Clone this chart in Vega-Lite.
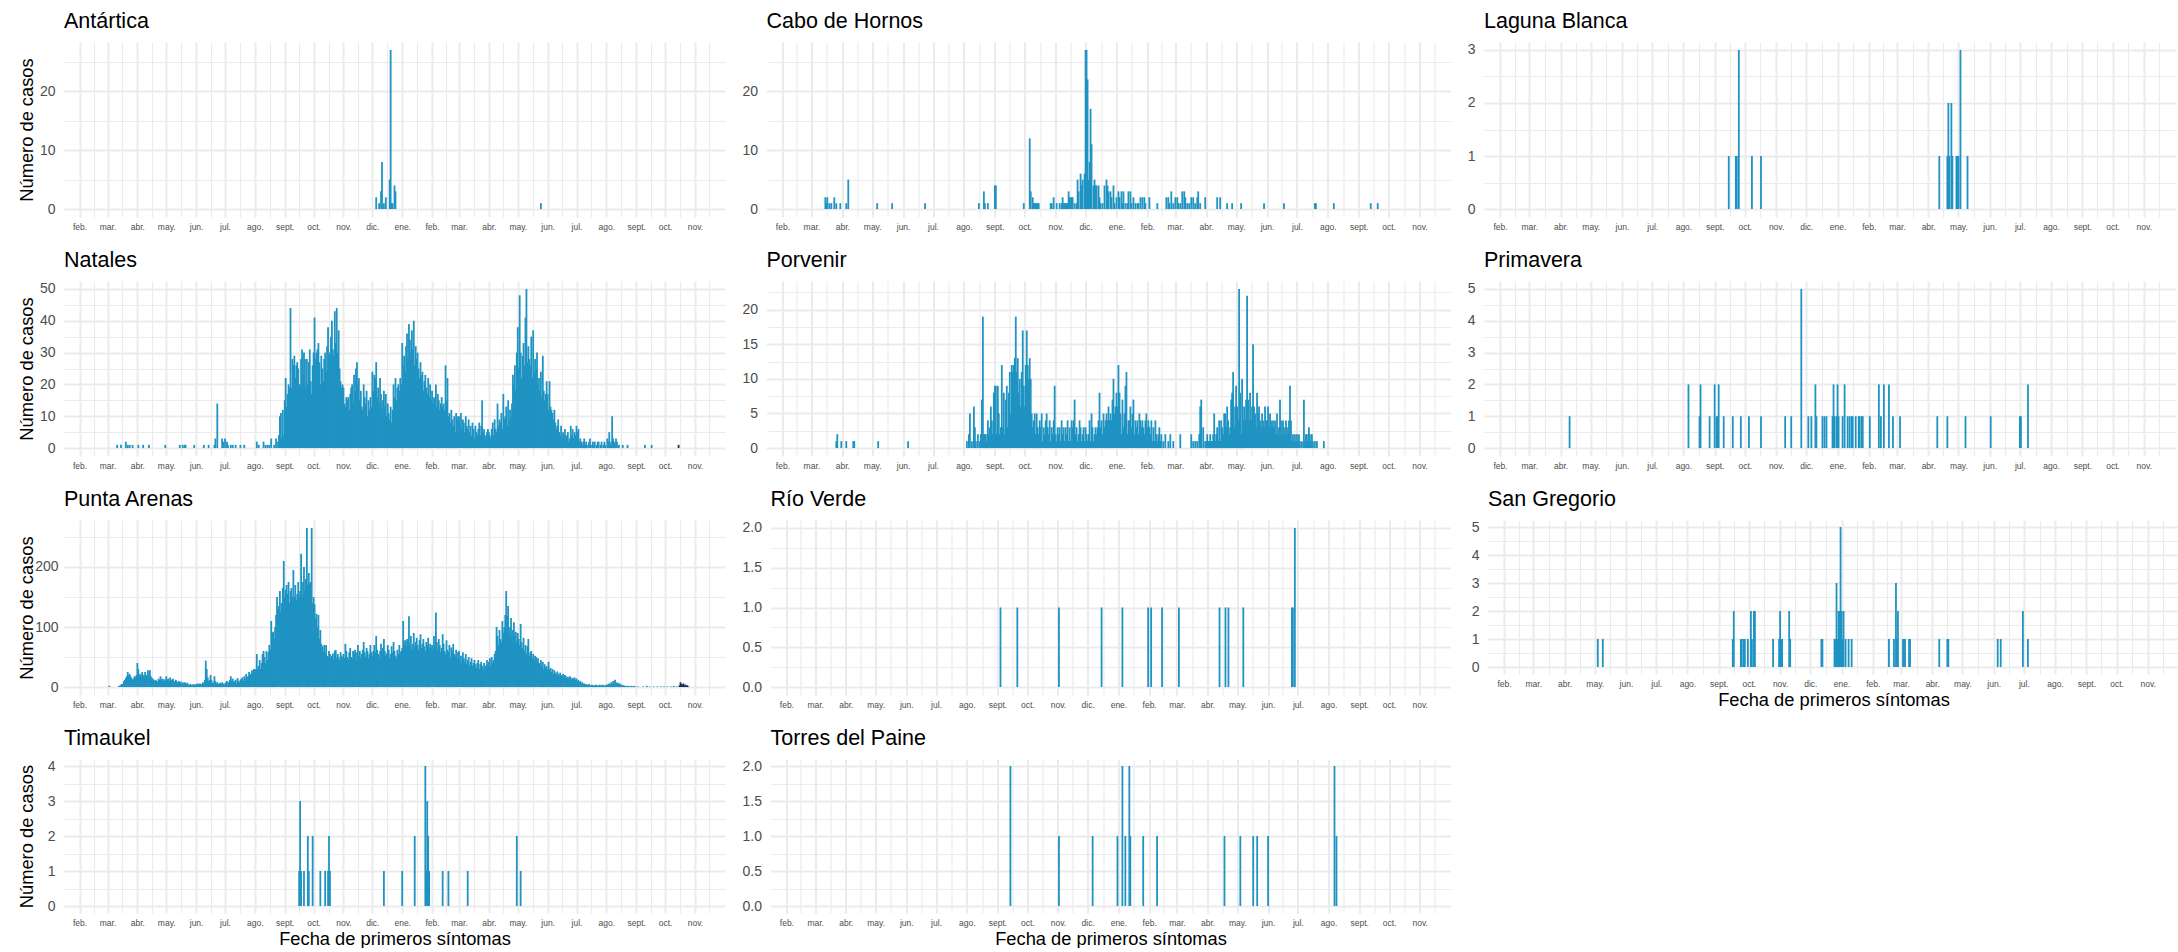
{
"$schema": "https://vega.github.io/schema/vega-lite/v6.json",
"background": "white",
"padding": {"left": 16, "top": 10, "right": 0, "bottom": 0},
"params": [
 {"name": "mes", "value": ["ene.","feb.","mar.","abr.","may.","jun.","jul.","ago.","sept.","oct.","nov.","dic."]},
 {"name": "xt", "expr": "[utc(2020,1,1),utc(2020,1,15,12),utc(2020,2,1),utc(2020,2,16,12),utc(2020,3,1),utc(2020,3,16),utc(2020,4,1),utc(2020,4,16,12),utc(2020,5,1),utc(2020,5,16),utc(2020,6,1),utc(2020,6,16,12),utc(2020,7,1),utc(2020,7,16,12),utc(2020,8,1),utc(2020,8,16),utc(2020,9,1),utc(2020,9,16,12),utc(2020,10,1),utc(2020,10,16),utc(2020,11,1),utc(2020,11,16,12),utc(2021,0,1),utc(2021,0,16,12),utc(2021,1,1),utc(2021,1,15),utc(2021,2,1),utc(2021,2,16,12),utc(2021,3,1),utc(2021,3,16),utc(2021,4,1),utc(2021,4,16,12),utc(2021,5,1),utc(2021,5,16),utc(2021,6,1),utc(2021,6,16,12),utc(2021,7,1),utc(2021,7,16,12),utc(2021,8,1),utc(2021,8,16),utc(2021,9,1),utc(2021,9,16,12),utc(2021,10,1),utc(2021,10,16)]"}
],
"config": {
 "font": "Liberation Sans",
 "view": {"stroke": null},
 "bar": {"color": "#1F93C2"},
 "axis": {"domain": false, "ticks": false, "grid": true, "gridColor": "#EBEBEB", "labelColor": "#4D4D4D", "labelFont": "Liberation Sans", "titleFont": "Liberation Sans", "titleFontWeight": "normal", "titleColor": "#000000", "titleFontSize": 18.3, "labelOverlap": false, "labelFlush": false},
 "axisX": {"labelFontSize": 8.5, "labelPadding": 5, "titlePadding": 3.5, "labelAngle": 0},
 "title": {"font": "Liberation Sans", "fontSize": 21.5, "fontWeight": "normal", "anchor": "start", "frame": "group", "baseline": "alphabetic", "offset": 10, "color": "#000000"}
},
"columns": 3,
"spacing": {"row": 18, "column": 16.5},
"align": {"row": "all", "column": "none"},
"datasets": {
"ant": [{"d":"2020-12-05","n":2},{"d":"2020-12-08","n":1},{"d":"2020-12-10","n":3},{"d":"2020-12-11","n":8},{"d":"2020-12-13","n":1},{"d":"2020-12-15","n":2},{"d":"2020-12-19","n":5},{"d":"2020-12-20","n":27},{"d":"2020-12-21","n":1},{"d":"2020-12-22","n":1},{"d":"2020-12-24","n":4},{"d":"2020-12-25","n":3},{"d":"2021-05-25","n":1}],
"cab": [{"d":"2020-03-15","n":2},{"d":"2020-03-16","n":1},{"d":"2020-03-17","n":2},{"d":"2020-03-19","n":1},{"d":"2020-03-21","n":1},{"d":"2020-03-24","n":2},{"d":"2020-03-26","n":1},{"d":"2020-03-30","n":1},{"d":"2020-04-05","n":1},{"d":"2020-04-07","n":5},{"d":"2020-05-06","n":1},{"d":"2020-05-21","n":1},{"d":"2020-06-23","n":1},{"d":"2020-08-16","n":1},{"d":"2020-08-21","n":3},{"d":"2020-08-22","n":1},{"d":"2020-08-25","n":1},{"d":"2020-09-01","n":4},{"d":"2020-09-02","n":4},{"d":"2020-09-30","n":1},{"d":"2020-10-06","n":12},{"d":"2020-10-07","n":3},{"d":"2020-10-09","n":2},{"d":"2020-10-10","n":1},{"d":"2020-10-11","n":1},{"d":"2020-10-12","n":1},{"d":"2020-10-13","n":1},{"d":"2020-10-14","n":1},{"d":"2020-10-15","n":1},{"d":"2020-10-27","n":1},{"d":"2020-10-28","n":1},{"d":"2020-10-30","n":2},{"d":"2020-11-02","n":1},{"d":"2020-11-05","n":1},{"d":"2020-11-07","n":1},{"d":"2020-11-08","n":2},{"d":"2020-11-09","n":1},{"d":"2020-11-10","n":1},{"d":"2020-11-11","n":1},{"d":"2020-11-12","n":1},{"d":"2020-11-13","n":1},{"d":"2020-11-14","n":3},{"d":"2020-11-15","n":2},{"d":"2020-11-16","n":2},{"d":"2020-11-17","n":2},{"d":"2020-11-18","n":2},{"d":"2020-11-20","n":1},{"d":"2020-11-22","n":1},{"d":"2020-11-23","n":5},{"d":"2020-11-24","n":3},{"d":"2020-11-26","n":6},{"d":"2020-11-27","n":4},{"d":"2020-11-28","n":5},{"d":"2020-11-30","n":6},{"d":"2020-12-01","n":27},{"d":"2020-12-02","n":27},{"d":"2020-12-03","n":22},{"d":"2020-12-04","n":5},{"d":"2020-12-05","n":8},{"d":"2020-12-06","n":17},{"d":"2020-12-07","n":11},{"d":"2020-12-09","n":4},{"d":"2020-12-10","n":5},{"d":"2020-12-11","n":4},{"d":"2020-12-12","n":4},{"d":"2020-12-14","n":4},{"d":"2020-12-15","n":2},{"d":"2020-12-16","n":1},{"d":"2020-12-18","n":1},{"d":"2020-12-20","n":4},{"d":"2020-12-22","n":5},{"d":"2020-12-23","n":4},{"d":"2020-12-24","n":3},{"d":"2020-12-26","n":3},{"d":"2020-12-27","n":2},{"d":"2020-12-29","n":4},{"d":"2020-12-30","n":1},{"d":"2021-01-01","n":2},{"d":"2021-01-03","n":3},{"d":"2021-01-04","n":2},{"d":"2021-01-06","n":3},{"d":"2021-01-07","n":1},{"d":"2021-01-08","n":3},{"d":"2021-01-10","n":1},{"d":"2021-01-12","n":1},{"d":"2021-01-13","n":3},{"d":"2021-01-15","n":3},{"d":"2021-01-16","n":1},{"d":"2021-01-18","n":2},{"d":"2021-01-20","n":1},{"d":"2021-01-22","n":1},{"d":"2021-01-23","n":1},{"d":"2021-01-25","n":2},{"d":"2021-01-27","n":2},{"d":"2021-01-29","n":2},{"d":"2021-01-30","n":1},{"d":"2021-02-03","n":2},{"d":"2021-02-11","n":1},{"d":"2021-02-20","n":2},{"d":"2021-02-22","n":2},{"d":"2021-02-23","n":1},{"d":"2021-02-25","n":3},{"d":"2021-02-27","n":1},{"d":"2021-03-01","n":2},{"d":"2021-03-03","n":2},{"d":"2021-03-04","n":1},{"d":"2021-03-06","n":1},{"d":"2021-03-08","n":3},{"d":"2021-03-10","n":3},{"d":"2021-03-11","n":2},{"d":"2021-03-13","n":1},{"d":"2021-03-15","n":1},{"d":"2021-03-17","n":2},{"d":"2021-03-19","n":2},{"d":"2021-03-21","n":1},{"d":"2021-03-23","n":2},{"d":"2021-03-24","n":3},{"d":"2021-03-26","n":1},{"d":"2021-03-31","n":2},{"d":"2021-04-12","n":2},{"d":"2021-04-15","n":2},{"d":"2021-04-22","n":1},{"d":"2021-04-27","n":1},{"d":"2021-05-06","n":1},{"d":"2021-05-29","n":1},{"d":"2021-06-18","n":1},{"d":"2021-07-19","n":1},{"d":"2021-07-20","n":1},{"d":"2021-08-07","n":1},{"d":"2021-09-13","n":1},{"d":"2021-09-20","n":1}],
"lag": [{"d":"2020-09-15","n":1},{"d":"2020-09-22","n":1},{"d":"2020-09-23","n":1},{"d":"2020-09-25","n":3},{"d":"2020-10-08","n":1},{"d":"2020-10-17","n":1},{"d":"2021-04-12","n":1},{"d":"2021-04-20","n":1},{"d":"2021-04-21","n":2},{"d":"2021-04-22","n":1},{"d":"2021-04-24","n":2},{"d":"2021-04-25","n":1},{"d":"2021-04-29","n":1},{"d":"2021-04-30","n":1},{"d":"2021-05-01","n":1},{"d":"2021-05-03","n":3},{"d":"2021-05-10","n":1}],
"nat": [{"d":"2020-03-11","n":1},{"d":"2020-03-15","n":1},{"d":"2020-03-20","n":2},{"d":"2020-03-22","n":1},{"d":"2020-03-24","n":1},{"d":"2020-03-27","n":1},{"d":"2020-04-02","n":1},{"d":"2020-04-07","n":1},{"d":"2020-04-13","n":1},{"d":"2020-04-30","n":1},{"d":"2020-05-15","n":1},{"d":"2020-05-18","n":1},{"d":"2020-05-20","n":1},{"d":"2020-05-21","n":1},{"d":"2020-05-30","n":1},{"d":"2020-06-09","n":1},{"d":"2020-06-14","n":1},{"d":"2020-06-20","n":1},{"d":"2020-06-21","n":3},{"d":"2020-06-23","n":14},{"d":"2020-06-28","n":3},{"d":"2020-06-29","n":2},{"d":"2020-07-01","n":3},{"d":"2020-07-03","n":2},{"d":"2020-07-04","n":1},{"d":"2020-07-07","n":1},{"d":"2020-07-09","n":1},{"d":"2020-07-12","n":1},{"d":"2020-07-17","n":1},{"d":"2020-07-21","n":1},{"d":"2020-08-03","n":2},{"d":"2020-08-05","n":1},{"d":"2020-08-10","n":2},{"d":"2020-08-12","n":1},{"d":"2020-08-14","n":1},{"d":"2020-08-16","n":1},{"d":"2020-08-18","n":3},{"d":"2020-08-21","n":1},{"d":"2020-08-23","n":3},{"d":"2020-08-24","n":2},{"d":"2020-08-26","n":4},{"d":"2020-08-27","n":10},{"d":"2020-08-28","n":11},{"d":"2020-08-29","n":3},{"d":"2020-08-30","n":12},{"d":"2020-08-31","n":4},
{"d":"2020-09-01","n":15},{"d":"2020-09-02","n":22},{"d":"2020-09-03","n":13},{"d":"2020-09-04","n":17},{"d":"2020-09-05","n":20},{"d":"2020-09-06","n":19},{"d":"2020-09-07","n":44},{"d":"2020-09-08","n":19},{"d":"2020-09-09","n":28},{"d":"2020-09-10","n":26},{"d":"2020-09-11","n":29},{"d":"2020-09-12","n":22},{"d":"2020-09-13","n":26},{"d":"2020-09-14","n":27},{"d":"2020-09-15","n":25},{"d":"2020-09-16","n":20},{"d":"2020-09-17","n":20},{"d":"2020-09-18","n":28},{"d":"2020-09-19","n":31},{"d":"2020-09-20","n":23},{"d":"2020-09-21","n":30},{"d":"2020-09-22","n":28},{"d":"2020-09-23","n":19},{"d":"2020-09-24","n":28},{"d":"2020-09-25","n":20},{"d":"2020-09-26","n":27},{"d":"2020-09-27","n":31},{"d":"2020-09-28","n":21},{"d":"2020-09-29","n":17},{"d":"2020-09-30","n":26},
{"d":"2020-10-01","n":30},{"d":"2020-10-02","n":41},{"d":"2020-10-03","n":28},{"d":"2020-10-04","n":30},{"d":"2020-10-05","n":31},{"d":"2020-10-06","n":33},{"d":"2020-10-07","n":27},{"d":"2020-10-08","n":20},{"d":"2020-10-09","n":29},{"d":"2020-10-10","n":25},{"d":"2020-10-11","n":21},{"d":"2020-10-12","n":28},{"d":"2020-10-13","n":30},{"d":"2020-10-14","n":24},{"d":"2020-10-15","n":32},{"d":"2020-10-16","n":38},{"d":"2020-10-17","n":29},{"d":"2020-10-18","n":30},{"d":"2020-10-19","n":35},{"d":"2020-10-20","n":40},{"d":"2020-10-21","n":31},{"d":"2020-10-22","n":29},{"d":"2020-10-23","n":43},{"d":"2020-10-24","n":33},{"d":"2020-10-25","n":44},{"d":"2020-10-26","n":30},{"d":"2020-10-27","n":37},{"d":"2020-10-28","n":25},{"d":"2020-10-29","n":21},{"d":"2020-10-30","n":19},{"d":"2020-10-31","n":20},
{"d":"2020-11-01","n":19},{"d":"2020-11-02","n":14},{"d":"2020-11-03","n":13},{"d":"2020-11-04","n":16},{"d":"2020-11-05","n":15},{"d":"2020-11-06","n":16},{"d":"2020-11-07","n":12},{"d":"2020-11-08","n":17},{"d":"2020-11-09","n":19},{"d":"2020-11-10","n":20},{"d":"2020-11-11","n":14},{"d":"2020-11-12","n":23},{"d":"2020-11-13","n":18},{"d":"2020-11-14","n":25},{"d":"2020-11-15","n":27},{"d":"2020-11-16","n":20},{"d":"2020-11-17","n":22},{"d":"2020-11-18","n":15},{"d":"2020-11-19","n":18},{"d":"2020-11-20","n":13},{"d":"2020-11-21","n":12},{"d":"2020-11-22","n":20},{"d":"2020-11-23","n":16},{"d":"2020-11-24","n":14},{"d":"2020-11-25","n":18},{"d":"2020-11-26","n":10},{"d":"2020-11-27","n":15},{"d":"2020-11-28","n":12},{"d":"2020-11-29","n":16},{"d":"2020-11-30","n":13},
{"d":"2020-12-01","n":24},{"d":"2020-12-02","n":18},{"d":"2020-12-03","n":23},{"d":"2020-12-04","n":22},{"d":"2020-12-05","n":27},{"d":"2020-12-06","n":16},{"d":"2020-12-07","n":19},{"d":"2020-12-08","n":14},{"d":"2020-12-09","n":22},{"d":"2020-12-10","n":17},{"d":"2020-12-11","n":12},{"d":"2020-12-12","n":15},{"d":"2020-12-13","n":18},{"d":"2020-12-14","n":13},{"d":"2020-12-15","n":17},{"d":"2020-12-16","n":10},{"d":"2020-12-17","n":14},{"d":"2020-12-18","n":11},{"d":"2020-12-19","n":9},{"d":"2020-12-20","n":13},{"d":"2020-12-21","n":8},{"d":"2020-12-22","n":12},{"d":"2020-12-23","n":20},{"d":"2020-12-24","n":16},{"d":"2020-12-25","n":22},{"d":"2020-12-26","n":15},{"d":"2020-12-27","n":19},{"d":"2020-12-28","n":20},{"d":"2020-12-29","n":18},{"d":"2020-12-30","n":22},{"d":"2020-12-31","n":20},
{"d":"2021-01-01","n":33},{"d":"2021-01-02","n":26},{"d":"2021-01-03","n":29},{"d":"2021-01-04","n":24},{"d":"2021-01-05","n":32},{"d":"2021-01-06","n":36},{"d":"2021-01-07","n":28},{"d":"2021-01-08","n":39},{"d":"2021-01-09","n":34},{"d":"2021-01-10","n":30},{"d":"2021-01-11","n":37},{"d":"2021-01-12","n":31},{"d":"2021-01-13","n":40},{"d":"2021-01-14","n":26},{"d":"2021-01-15","n":32},{"d":"2021-01-16","n":28},{"d":"2021-01-17","n":30},{"d":"2021-01-18","n":25},{"d":"2021-01-19","n":22},{"d":"2021-01-20","n":27},{"d":"2021-01-21","n":23},{"d":"2021-01-22","n":24},{"d":"2021-01-23","n":18},{"d":"2021-01-24","n":21},{"d":"2021-01-25","n":23},{"d":"2021-01-26","n":19},{"d":"2021-01-27","n":17},{"d":"2021-01-28","n":22},{"d":"2021-01-29","n":16},{"d":"2021-01-30","n":20},{"d":"2021-01-31","n":15},
{"d":"2021-02-01","n":18},{"d":"2021-02-02","n":14},{"d":"2021-02-03","n":16},{"d":"2021-02-04","n":15},{"d":"2021-02-05","n":20},{"d":"2021-02-06","n":13},{"d":"2021-02-07","n":17},{"d":"2021-02-08","n":15},{"d":"2021-02-09","n":12},{"d":"2021-02-10","n":14},{"d":"2021-02-11","n":16},{"d":"2021-02-12","n":13},{"d":"2021-02-13","n":14},{"d":"2021-02-14","n":12},{"d":"2021-02-15","n":26},{"d":"2021-02-16","n":15},{"d":"2021-02-17","n":22},{"d":"2021-02-18","n":10},{"d":"2021-02-19","n":11},{"d":"2021-02-20","n":8},{"d":"2021-02-21","n":12},{"d":"2021-02-22","n":9},{"d":"2021-02-23","n":7},{"d":"2021-02-24","n":10},{"d":"2021-02-25","n":5},{"d":"2021-02-26","n":11},{"d":"2021-02-27","n":9},{"d":"2021-02-28","n":10},
{"d":"2021-03-01","n":10},{"d":"2021-03-02","n":8},{"d":"2021-03-03","n":11},{"d":"2021-03-04","n":6},{"d":"2021-03-05","n":9},{"d":"2021-03-06","n":8},{"d":"2021-03-07","n":5},{"d":"2021-03-08","n":10},{"d":"2021-03-09","n":7},{"d":"2021-03-10","n":6},{"d":"2021-03-11","n":9},{"d":"2021-03-12","n":5},{"d":"2021-03-13","n":7},{"d":"2021-03-14","n":4},{"d":"2021-03-15","n":8},{"d":"2021-03-16","n":6},{"d":"2021-03-17","n":3},{"d":"2021-03-18","n":7},{"d":"2021-03-19","n":5},{"d":"2021-03-20","n":4},{"d":"2021-03-21","n":6},{"d":"2021-03-22","n":8},{"d":"2021-03-23","n":4},{"d":"2021-03-24","n":7},{"d":"2021-03-25","n":15},{"d":"2021-03-26","n":5},{"d":"2021-03-27","n":6},{"d":"2021-03-28","n":4},{"d":"2021-03-29","n":3},{"d":"2021-03-30","n":5},{"d":"2021-03-31","n":6},
{"d":"2021-04-01","n":5},{"d":"2021-04-02","n":4},{"d":"2021-04-03","n":3},{"d":"2021-04-04","n":6},{"d":"2021-04-05","n":8},{"d":"2021-04-06","n":4},{"d":"2021-04-07","n":9},{"d":"2021-04-08","n":6},{"d":"2021-04-09","n":5},{"d":"2021-04-10","n":14},{"d":"2021-04-11","n":7},{"d":"2021-04-12","n":9},{"d":"2021-04-13","n":8},{"d":"2021-04-14","n":11},{"d":"2021-04-15","n":6},{"d":"2021-04-16","n":17},{"d":"2021-04-17","n":9},{"d":"2021-04-18","n":10},{"d":"2021-04-19","n":13},{"d":"2021-04-20","n":7},{"d":"2021-04-21","n":15},{"d":"2021-04-22","n":9},{"d":"2021-04-23","n":12},{"d":"2021-04-24","n":10},{"d":"2021-04-25","n":14},{"d":"2021-04-26","n":23},{"d":"2021-04-27","n":20},{"d":"2021-04-28","n":26},{"d":"2021-04-29","n":18},{"d":"2021-04-30","n":30},
{"d":"2021-05-01","n":38},{"d":"2021-05-02","n":25},{"d":"2021-05-03","n":48},{"d":"2021-05-04","n":30},{"d":"2021-05-05","n":22},{"d":"2021-05-06","n":29},{"d":"2021-05-07","n":33},{"d":"2021-05-08","n":26},{"d":"2021-05-09","n":41},{"d":"2021-05-10","n":50},{"d":"2021-05-11","n":27},{"d":"2021-05-12","n":32},{"d":"2021-05-13","n":28},{"d":"2021-05-14","n":26},{"d":"2021-05-15","n":35},{"d":"2021-05-16","n":22},{"d":"2021-05-17","n":37},{"d":"2021-05-18","n":24},{"d":"2021-05-19","n":28},{"d":"2021-05-20","n":25},{"d":"2021-05-21","n":30},{"d":"2021-05-22","n":20},{"d":"2021-05-23","n":22},{"d":"2021-05-24","n":18},{"d":"2021-05-25","n":24},{"d":"2021-05-26","n":16},{"d":"2021-05-27","n":29},{"d":"2021-05-28","n":18},{"d":"2021-05-29","n":15},{"d":"2021-05-30","n":17},{"d":"2021-05-31","n":21},
{"d":"2021-06-01","n":17},{"d":"2021-06-02","n":12},{"d":"2021-06-03","n":21},{"d":"2021-06-04","n":13},{"d":"2021-06-05","n":12},{"d":"2021-06-06","n":11},{"d":"2021-06-07","n":9},{"d":"2021-06-08","n":12},{"d":"2021-06-09","n":8},{"d":"2021-06-10","n":6},{"d":"2021-06-11","n":7},{"d":"2021-06-12","n":9},{"d":"2021-06-13","n":5},{"d":"2021-06-14","n":4},{"d":"2021-06-15","n":7},{"d":"2021-06-16","n":3},{"d":"2021-06-17","n":5},{"d":"2021-06-18","n":4},{"d":"2021-06-19","n":6},{"d":"2021-06-20","n":3},{"d":"2021-06-21","n":4},{"d":"2021-06-22","n":5},{"d":"2021-06-23","n":2},{"d":"2021-06-24","n":3},{"d":"2021-06-25","n":7},{"d":"2021-06-26","n":4},{"d":"2021-06-27","n":6},{"d":"2021-06-28","n":3},{"d":"2021-06-29","n":5},{"d":"2021-06-30","n":4},
{"d":"2021-07-01","n":7},{"d":"2021-07-02","n":5},{"d":"2021-07-03","n":6},{"d":"2021-07-04","n":2},{"d":"2021-07-05","n":3},{"d":"2021-07-06","n":2},{"d":"2021-07-07","n":1},{"d":"2021-07-08","n":2},{"d":"2021-07-09","n":3},{"d":"2021-07-10","n":1},{"d":"2021-07-11","n":2},{"d":"2021-07-13","n":1},{"d":"2021-07-14","n":2},{"d":"2021-07-15","n":3},{"d":"2021-07-16","n":1},{"d":"2021-07-18","n":2},{"d":"2021-07-19","n":1},{"d":"2021-07-20","n":2},{"d":"2021-07-22","n":1},{"d":"2021-07-23","n":2},{"d":"2021-07-24","n":2},{"d":"2021-07-26","n":1},{"d":"2021-07-27","n":2},{"d":"2021-07-29","n":1},{"d":"2021-07-30","n":2},{"d":"2021-07-31","n":1},
{"d":"2021-08-02","n":3},{"d":"2021-08-03","n":2},{"d":"2021-08-04","n":5},{"d":"2021-08-05","n":1},{"d":"2021-08-06","n":2},{"d":"2021-08-07","n":10},{"d":"2021-08-08","n":3},{"d":"2021-08-09","n":2},{"d":"2021-08-10","n":1},{"d":"2021-08-11","n":3},{"d":"2021-08-12","n":2},{"d":"2021-08-14","n":1},{"d":"2021-08-18","n":1},{"d":"2021-08-23","n":1},{"d":"2021-09-10","n":1},{"d":"2021-09-17","n":1},{"d":"2021-10-15","n":1,"r":1}],
"por": [{"d":"2020-03-26","n":1},{"d":"2020-03-27","n":2},{"d":"2020-03-31","n":1},{"d":"2020-04-05","n":1},{"d":"2020-04-12","n":1},{"d":"2020-04-13","n":1},{"d":"2020-05-07","n":1},{"d":"2020-06-06","n":1},
{"d":"2020-08-04","n":1},{"d":"2020-08-06","n":2},{"d":"2020-08-07","n":5},{"d":"2020-08-09","n":1},{"d":"2020-08-11","n":6},{"d":"2020-08-12","n":3},{"d":"2020-08-13","n":1},{"d":"2020-08-15","n":2},{"d":"2020-08-17","n":1},{"d":"2020-08-18","n":2},{"d":"2020-08-19","n":7},{"d":"2020-08-20","n":19},{"d":"2020-08-21","n":2},{"d":"2020-08-22","n":2},{"d":"2020-08-23","n":2},{"d":"2020-08-24","n":1},{"d":"2020-08-25","n":4},{"d":"2020-08-26","n":2},{"d":"2020-08-27","n":3},{"d":"2020-08-28","n":6},{"d":"2020-08-29","n":4},{"d":"2020-08-30","n":2},{"d":"2020-08-31","n":8},
{"d":"2020-09-01","n":9},{"d":"2020-09-02","n":9},{"d":"2020-09-03","n":2},{"d":"2020-09-04","n":9},{"d":"2020-09-05","n":5},{"d":"2020-09-06","n":2},{"d":"2020-09-07","n":3},{"d":"2020-09-08","n":12},{"d":"2020-09-09","n":3},{"d":"2020-09-10","n":8},{"d":"2020-09-11","n":2},{"d":"2020-09-12","n":7},{"d":"2020-09-13","n":9},{"d":"2020-09-14","n":3},{"d":"2020-09-15","n":8},{"d":"2020-09-16","n":11},{"d":"2020-09-17","n":5},{"d":"2020-09-18","n":12},{"d":"2020-09-19","n":11},{"d":"2020-09-20","n":12},{"d":"2020-09-21","n":13},{"d":"2020-09-22","n":19},{"d":"2020-09-23","n":11},{"d":"2020-09-24","n":13},{"d":"2020-09-25","n":8},{"d":"2020-09-26","n":10},{"d":"2020-09-27","n":6},{"d":"2020-09-28","n":11},{"d":"2020-09-29","n":17},{"d":"2020-09-30","n":9},
{"d":"2020-10-01","n":6},{"d":"2020-10-02","n":12},{"d":"2020-10-03","n":17},{"d":"2020-10-04","n":12},{"d":"2020-10-05","n":10},{"d":"2020-10-06","n":13},{"d":"2020-10-07","n":10},{"d":"2020-10-08","n":5},{"d":"2020-10-09","n":3},{"d":"2020-10-10","n":4},{"d":"2020-10-11","n":5},{"d":"2020-10-12","n":2},{"d":"2020-10-13","n":5},{"d":"2020-10-14","n":3},{"d":"2020-10-15","n":2},{"d":"2020-10-16","n":4},{"d":"2020-10-17","n":3},{"d":"2020-10-18","n":5},{"d":"2020-10-19","n":1},{"d":"2020-10-20","n":3},{"d":"2020-10-21","n":2},{"d":"2020-10-22","n":4},{"d":"2020-10-23","n":5},{"d":"2020-10-24","n":3},{"d":"2020-10-25","n":2},{"d":"2020-10-26","n":4},{"d":"2020-10-27","n":1},{"d":"2020-10-28","n":3},{"d":"2020-10-29","n":2},{"d":"2020-10-30","n":4},{"d":"2020-10-31","n":9},
{"d":"2020-11-01","n":2},{"d":"2020-11-02","n":1},{"d":"2020-11-03","n":3},{"d":"2020-11-04","n":2},{"d":"2020-11-05","n":3},{"d":"2020-11-06","n":1},{"d":"2020-11-07","n":4},{"d":"2020-11-08","n":2},{"d":"2020-11-09","n":3},{"d":"2020-11-10","n":1},{"d":"2020-11-11","n":3},{"d":"2020-11-12","n":2},{"d":"2020-11-13","n":4},{"d":"2020-11-14","n":1},{"d":"2020-11-15","n":3},{"d":"2020-11-16","n":1},{"d":"2020-11-17","n":4},{"d":"2020-11-18","n":3},{"d":"2020-11-19","n":4},{"d":"2020-11-20","n":7},{"d":"2020-11-21","n":2},{"d":"2020-11-22","n":3},{"d":"2020-11-23","n":1},{"d":"2020-11-24","n":2},{"d":"2020-11-25","n":4},{"d":"2020-11-26","n":3},{"d":"2020-11-27","n":1},{"d":"2020-11-28","n":2},{"d":"2020-11-29","n":3},{"d":"2020-11-30","n":1},
{"d":"2020-12-01","n":3},{"d":"2020-12-02","n":2},{"d":"2020-12-03","n":1},{"d":"2020-12-04","n":2},{"d":"2020-12-05","n":4},{"d":"2020-12-06","n":1},{"d":"2020-12-07","n":5},{"d":"2020-12-08","n":3},{"d":"2020-12-09","n":1},{"d":"2020-12-10","n":2},{"d":"2020-12-11","n":3},{"d":"2020-12-12","n":2},{"d":"2020-12-13","n":3},{"d":"2020-12-14","n":4},{"d":"2020-12-15","n":8},{"d":"2020-12-16","n":3},{"d":"2020-12-17","n":4},{"d":"2020-12-18","n":2},{"d":"2020-12-19","n":5},{"d":"2020-12-20","n":3},{"d":"2020-12-21","n":4},{"d":"2020-12-22","n":5},{"d":"2020-12-23","n":4},{"d":"2020-12-24","n":6},{"d":"2020-12-25","n":4},{"d":"2020-12-26","n":5},{"d":"2020-12-27","n":4},{"d":"2020-12-28","n":7},{"d":"2020-12-29","n":10},{"d":"2020-12-30","n":5},{"d":"2020-12-31","n":6},
{"d":"2021-01-01","n":8},{"d":"2021-01-02","n":6},{"d":"2021-01-03","n":12},{"d":"2021-01-04","n":8},{"d":"2021-01-05","n":5},{"d":"2021-01-06","n":2},{"d":"2021-01-07","n":7},{"d":"2021-01-08","n":3},{"d":"2021-01-09","n":5},{"d":"2021-01-10","n":9},{"d":"2021-01-11","n":11},{"d":"2021-01-12","n":2},{"d":"2021-01-13","n":4},{"d":"2021-01-14","n":4},{"d":"2021-01-15","n":6},{"d":"2021-01-16","n":3},{"d":"2021-01-17","n":5},{"d":"2021-01-18","n":7},{"d":"2021-01-19","n":2},{"d":"2021-01-20","n":4},{"d":"2021-01-21","n":3},{"d":"2021-01-22","n":4},{"d":"2021-01-23","n":2},{"d":"2021-01-24","n":5},{"d":"2021-01-25","n":4},{"d":"2021-01-26","n":3},{"d":"2021-01-27","n":4},{"d":"2021-01-28","n":3},{"d":"2021-01-29","n":2},{"d":"2021-01-30","n":4},{"d":"2021-01-31","n":5},
{"d":"2021-02-01","n":3},{"d":"2021-02-02","n":4},{"d":"2021-02-03","n":3},{"d":"2021-02-04","n":2},{"d":"2021-02-05","n":4},{"d":"2021-02-06","n":1},{"d":"2021-02-07","n":3},{"d":"2021-02-08","n":1},{"d":"2021-02-09","n":4},{"d":"2021-02-10","n":2},{"d":"2021-02-11","n":1},{"d":"2021-02-12","n":2},{"d":"2021-02-13","n":3},{"d":"2021-02-14","n":1},{"d":"2021-02-15","n":2},{"d":"2021-02-17","n":1},{"d":"2021-02-19","n":2},{"d":"2021-02-22","n":1},{"d":"2021-02-24","n":2},{"d":"2021-02-27","n":1},
{"d":"2021-03-06","n":2},{"d":"2021-03-17","n":2},{"d":"2021-03-19","n":1},{"d":"2021-03-21","n":1},{"d":"2021-03-23","n":1},{"d":"2021-03-25","n":2},{"d":"2021-03-26","n":6},{"d":"2021-03-27","n":7},{"d":"2021-03-29","n":3},{"d":"2021-03-31","n":1},
{"d":"2021-04-01","n":1},{"d":"2021-04-02","n":2},{"d":"2021-04-03","n":1},{"d":"2021-04-04","n":1},{"d":"2021-04-05","n":2},{"d":"2021-04-06","n":1},{"d":"2021-04-07","n":1},{"d":"2021-04-08","n":2},{"d":"2021-04-09","n":5},{"d":"2021-04-10","n":1},{"d":"2021-04-11","n":2},{"d":"2021-04-12","n":3},{"d":"2021-04-13","n":1},{"d":"2021-04-14","n":4},{"d":"2021-04-15","n":1},{"d":"2021-04-16","n":4},{"d":"2021-04-17","n":3},{"d":"2021-04-18","n":2},{"d":"2021-04-19","n":5},{"d":"2021-04-20","n":5},{"d":"2021-04-21","n":3},{"d":"2021-04-22","n":6},{"d":"2021-04-23","n":4},{"d":"2021-04-24","n":2},{"d":"2021-04-25","n":3},{"d":"2021-04-26","n":7},{"d":"2021-04-27","n":8},{"d":"2021-04-28","n":11},{"d":"2021-04-29","n":3},{"d":"2021-04-30","n":6},
{"d":"2021-05-01","n":9},{"d":"2021-05-02","n":6},{"d":"2021-05-03","n":4},{"d":"2021-05-04","n":23},{"d":"2021-05-05","n":8},{"d":"2021-05-06","n":2},{"d":"2021-05-07","n":10},{"d":"2021-05-08","n":4},{"d":"2021-05-09","n":6},{"d":"2021-05-10","n":4},{"d":"2021-05-11","n":7},{"d":"2021-05-12","n":22},{"d":"2021-05-13","n":7},{"d":"2021-05-14","n":4},{"d":"2021-05-15","n":8},{"d":"2021-05-16","n":4},{"d":"2021-05-17","n":6},{"d":"2021-05-18","n":15},{"d":"2021-05-19","n":6},{"d":"2021-05-20","n":5},{"d":"2021-05-21","n":3},{"d":"2021-05-22","n":8},{"d":"2021-05-23","n":5},{"d":"2021-05-24","n":6},{"d":"2021-05-25","n":4},{"d":"2021-05-26","n":3},{"d":"2021-05-27","n":5},{"d":"2021-05-28","n":4},{"d":"2021-05-29","n":3},{"d":"2021-05-30","n":6},{"d":"2021-05-31","n":4},
{"d":"2021-06-01","n":4},{"d":"2021-06-02","n":6},{"d":"2021-06-03","n":3},{"d":"2021-06-04","n":5},{"d":"2021-06-05","n":4},{"d":"2021-06-06","n":3},{"d":"2021-06-07","n":4},{"d":"2021-06-08","n":3},{"d":"2021-06-09","n":4},{"d":"2021-06-10","n":2},{"d":"2021-06-11","n":5},{"d":"2021-06-12","n":2},{"d":"2021-06-13","n":3},{"d":"2021-06-14","n":7},{"d":"2021-06-15","n":4},{"d":"2021-06-16","n":2},{"d":"2021-06-17","n":4},{"d":"2021-06-18","n":3},{"d":"2021-06-19","n":2},{"d":"2021-06-20","n":4},{"d":"2021-06-21","n":3},{"d":"2021-06-22","n":2},{"d":"2021-06-23","n":4},{"d":"2021-06-24","n":9},{"d":"2021-06-25","n":4},{"d":"2021-06-26","n":1},{"d":"2021-06-27","n":2},{"d":"2021-06-28","n":1},{"d":"2021-06-29","n":2},{"d":"2021-06-30","n":1},
{"d":"2021-07-01","n":2},{"d":"2021-07-02","n":1},{"d":"2021-07-03","n":2},{"d":"2021-07-04","n":1},{"d":"2021-07-06","n":1},{"d":"2021-07-08","n":7},{"d":"2021-07-09","n":1},{"d":"2021-07-10","n":2},{"d":"2021-07-11","n":2},{"d":"2021-07-12","n":1},{"d":"2021-07-13","n":3},{"d":"2021-07-14","n":2},{"d":"2021-07-15","n":1},{"d":"2021-07-16","n":2},{"d":"2021-07-17","n":1},{"d":"2021-07-19","n":1},{"d":"2021-07-21","n":1},{"d":"2021-07-28","n":1}],
"pri": [{"d":"2020-04-10","n":1},{"d":"2020-08-06","n":2},{"d":"2020-08-17","n":1},{"d":"2020-08-18","n":2},{"d":"2020-08-27","n":1},{"d":"2020-09-01","n":2},{"d":"2020-09-03","n":1},{"d":"2020-09-04","n":1},{"d":"2020-09-05","n":2},{"d":"2020-09-10","n":1},{"d":"2020-09-19","n":1},{"d":"2020-09-27","n":1},{"d":"2020-10-05","n":1},{"d":"2020-10-17","n":1},{"d":"2020-11-10","n":1},{"d":"2020-11-16","n":1},{"d":"2020-11-26","n":5},{"d":"2020-12-03","n":1},{"d":"2020-12-06","n":1},{"d":"2020-12-10","n":2},{"d":"2020-12-11","n":1},{"d":"2020-12-17","n":1},{"d":"2020-12-19","n":1},{"d":"2020-12-21","n":1},{"d":"2020-12-27","n":1},{"d":"2020-12-28","n":2},{"d":"2020-12-29","n":1},{"d":"2020-12-31","n":1},{"d":"2021-01-01","n":2},{"d":"2021-01-02","n":1},{"d":"2021-01-06","n":1},{"d":"2021-01-08","n":2},{"d":"2021-01-11","n":1},{"d":"2021-01-13","n":1},{"d":"2021-01-15","n":1},{"d":"2021-01-16","n":1},{"d":"2021-01-19","n":1},{"d":"2021-01-22","n":1},{"d":"2021-01-23","n":1},{"d":"2021-01-25","n":1},{"d":"2021-01-26","n":1},{"d":"2021-02-02","n":1},{"d":"2021-02-11","n":2},{"d":"2021-02-13","n":1},{"d":"2021-02-16","n":2},{"d":"2021-02-21","n":2},{"d":"2021-02-25","n":1},{"d":"2021-03-04","n":1},{"d":"2021-04-10","n":1},{"d":"2021-04-20","n":1},{"d":"2021-05-08","n":1},{"d":"2021-06-02","n":1},{"d":"2021-07-01","n":1},{"d":"2021-07-02","n":1},{"d":"2021-07-09","n":2}],
"pun": [{"d":"2020-03-03","n":2},{"d":"2020-03-13","n":2},{"d":"2020-03-14","n":2},{"d":"2020-03-15","n":4},{"d":"2020-03-16","n":5},{"d":"2020-03-17","n":5},{"d":"2020-03-18","n":10},{"d":"2020-03-19","n":12},{"d":"2020-03-20","n":15},{"d":"2020-03-21","n":18},{"d":"2020-03-22","n":25},{"d":"2020-03-23","n":20},{"d":"2020-03-24","n":22},{"d":"2020-03-25","n":18},{"d":"2020-03-26","n":15},{"d":"2020-03-27","n":12},{"d":"2020-03-28","n":14},{"d":"2020-03-29","n":18},{"d":"2020-03-30","n":16},{"d":"2020-03-31","n":20},
{"d":"2020-04-01","n":40},{"d":"2020-04-02","n":30},{"d":"2020-04-03","n":20},{"d":"2020-04-04","n":22},{"d":"2020-04-05","n":18},{"d":"2020-04-06","n":25},{"d":"2020-04-07","n":20},{"d":"2020-04-08","n":18},{"d":"2020-04-09","n":25},{"d":"2020-04-10","n":20},{"d":"2020-04-11","n":17},{"d":"2020-04-12","n":28},{"d":"2020-04-13","n":20},{"d":"2020-04-14","n":28},{"d":"2020-04-15","n":18},{"d":"2020-04-16","n":15},{"d":"2020-04-17","n":14},{"d":"2020-04-18","n":12},{"d":"2020-04-19","n":10},{"d":"2020-04-20","n":12},{"d":"2020-04-21","n":10},{"d":"2020-04-22","n":9},{"d":"2020-04-23","n":14},{"d":"2020-04-24","n":12},{"d":"2020-04-25","n":18},{"d":"2020-04-26","n":12},{"d":"2020-04-27","n":14},{"d":"2020-04-28","n":10},{"d":"2020-04-29","n":13},{"d":"2020-04-30","n":11},
{"d":"2020-05-01","n":18},{"d":"2020-05-02","n":12},{"d":"2020-05-03","n":14},{"d":"2020-05-04","n":10},{"d":"2020-05-05","n":16},{"d":"2020-05-06","n":12},{"d":"2020-05-07","n":12},{"d":"2020-05-08","n":14},{"d":"2020-05-09","n":10},{"d":"2020-05-10","n":8},{"d":"2020-05-11","n":12},{"d":"2020-05-12","n":9},{"d":"2020-05-13","n":7},{"d":"2020-05-14","n":10},{"d":"2020-05-15","n":8},{"d":"2020-05-16","n":9},{"d":"2020-05-17","n":5},{"d":"2020-05-18","n":8},{"d":"2020-05-19","n":6},{"d":"2020-05-20","n":8},{"d":"2020-05-21","n":7},{"d":"2020-05-22","n":5},{"d":"2020-05-23","n":7},{"d":"2020-05-24","n":4},{"d":"2020-05-25","n":3},{"d":"2020-05-26","n":5},{"d":"2020-05-27","n":4},{"d":"2020-05-28","n":3},{"d":"2020-05-29","n":5},{"d":"2020-05-30","n":4},{"d":"2020-05-31","n":3},
{"d":"2020-06-01","n":5},{"d":"2020-06-02","n":4},{"d":"2020-06-03","n":6},{"d":"2020-06-04","n":3},{"d":"2020-06-05","n":6},{"d":"2020-06-06","n":5},{"d":"2020-06-07","n":4},{"d":"2020-06-08","n":8},{"d":"2020-06-09","n":6},{"d":"2020-06-10","n":12},{"d":"2020-06-11","n":44},{"d":"2020-06-12","n":30},{"d":"2020-06-13","n":16},{"d":"2020-06-14","n":10},{"d":"2020-06-15","n":12},{"d":"2020-06-16","n":20},{"d":"2020-06-17","n":12},{"d":"2020-06-18","n":6},{"d":"2020-06-19","n":8},{"d":"2020-06-20","n":18},{"d":"2020-06-21","n":10},{"d":"2020-06-22","n":6},{"d":"2020-06-23","n":8},{"d":"2020-06-24","n":5},{"d":"2020-06-25","n":6},{"d":"2020-06-26","n":7},{"d":"2020-06-27","n":5},{"d":"2020-06-28","n":8},{"d":"2020-06-29","n":6},{"d":"2020-06-30","n":4},
{"d":"2020-07-01","n":6},{"d":"2020-07-02","n":8},{"d":"2020-07-03","n":10},{"d":"2020-07-04","n":6},{"d":"2020-07-05","n":8},{"d":"2020-07-06","n":12},{"d":"2020-07-07","n":18},{"d":"2020-07-08","n":10},{"d":"2020-07-09","n":14},{"d":"2020-07-10","n":8},{"d":"2020-07-11","n":10},{"d":"2020-07-12","n":12},{"d":"2020-07-13","n":6},{"d":"2020-07-14","n":15},{"d":"2020-07-15","n":10},{"d":"2020-07-16","n":8},{"d":"2020-07-17","n":12},{"d":"2020-07-18","n":14},{"d":"2020-07-19","n":16},{"d":"2020-07-20","n":10},{"d":"2020-07-21","n":18},{"d":"2020-07-22","n":14},{"d":"2020-07-23","n":22},{"d":"2020-07-24","n":16},{"d":"2020-07-25","n":18},{"d":"2020-07-26","n":25},{"d":"2020-07-27","n":20},{"d":"2020-07-28","n":22},{"d":"2020-07-29","n":28},{"d":"2020-07-30","n":24},{"d":"2020-07-31","n":30},
{"d":"2020-08-01","n":30},{"d":"2020-08-02","n":28},{"d":"2020-08-03","n":55},{"d":"2020-08-04","n":30},{"d":"2020-08-05","n":35},{"d":"2020-08-06","n":45},{"d":"2020-08-07","n":30},{"d":"2020-08-08","n":40},{"d":"2020-08-09","n":55},{"d":"2020-08-10","n":60},{"d":"2020-08-11","n":50},{"d":"2020-08-12","n":40},{"d":"2020-08-13","n":60},{"d":"2020-08-14","n":45},{"d":"2020-08-15","n":58},{"d":"2020-08-16","n":70},{"d":"2020-08-17","n":62},{"d":"2020-08-18","n":110},{"d":"2020-08-19","n":90},{"d":"2020-08-20","n":92},{"d":"2020-08-21","n":80},{"d":"2020-08-22","n":100},{"d":"2020-08-23","n":120},{"d":"2020-08-24","n":150},{"d":"2020-08-25","n":130},{"d":"2020-08-26","n":135},{"d":"2020-08-27","n":160},{"d":"2020-08-28","n":125},{"d":"2020-08-29","n":140},{"d":"2020-08-30","n":165},{"d":"2020-08-31","n":210},
{"d":"2020-09-01","n":150},{"d":"2020-09-02","n":162},{"d":"2020-09-03","n":170},{"d":"2020-09-04","n":155},{"d":"2020-09-05","n":175},{"d":"2020-09-06","n":140},{"d":"2020-09-07","n":160},{"d":"2020-09-08","n":165},{"d":"2020-09-09","n":150},{"d":"2020-09-10","n":195},{"d":"2020-09-11","n":150},{"d":"2020-09-12","n":170},{"d":"2020-09-13","n":145},{"d":"2020-09-14","n":155},{"d":"2020-09-15","n":175},{"d":"2020-09-16","n":150},{"d":"2020-09-17","n":160},{"d":"2020-09-18","n":222},{"d":"2020-09-19","n":150},{"d":"2020-09-20","n":175},{"d":"2020-09-21","n":200},{"d":"2020-09-22","n":160},{"d":"2020-09-23","n":180},{"d":"2020-09-24","n":265},{"d":"2020-09-25","n":170},{"d":"2020-09-26","n":190},{"d":"2020-09-27","n":172},{"d":"2020-09-28","n":175},{"d":"2020-09-29","n":265},{"d":"2020-09-30","n":140},
{"d":"2020-10-01","n":150},{"d":"2020-10-02","n":138},{"d":"2020-10-03","n":115},{"d":"2020-10-04","n":122},{"d":"2020-10-05","n":100},{"d":"2020-10-06","n":120},{"d":"2020-10-07","n":80},{"d":"2020-10-08","n":95},{"d":"2020-10-09","n":72},{"d":"2020-10-10","n":68},{"d":"2020-10-11","n":60},{"d":"2020-10-12","n":70},{"d":"2020-10-13","n":56},{"d":"2020-10-14","n":70},{"d":"2020-10-15","n":52},{"d":"2020-10-16","n":50},{"d":"2020-10-17","n":60},{"d":"2020-10-18","n":55},{"d":"2020-10-19","n":48},{"d":"2020-10-20","n":52},{"d":"2020-10-21","n":56},{"d":"2020-10-22","n":45},{"d":"2020-10-23","n":60},{"d":"2020-10-24","n":62},{"d":"2020-10-25","n":48},{"d":"2020-10-26","n":55},{"d":"2020-10-27","n":50},{"d":"2020-10-28","n":45},{"d":"2020-10-29","n":58},{"d":"2020-10-30","n":52},{"d":"2020-10-31","n":48},
{"d":"2020-11-01","n":55},{"d":"2020-11-02","n":48},{"d":"2020-11-03","n":72},{"d":"2020-11-04","n":60},{"d":"2020-11-05","n":50},{"d":"2020-11-06","n":46},{"d":"2020-11-07","n":58},{"d":"2020-11-08","n":65},{"d":"2020-11-09","n":50},{"d":"2020-11-10","n":48},{"d":"2020-11-11","n":60},{"d":"2020-11-12","n":55},{"d":"2020-11-13","n":62},{"d":"2020-11-14","n":58},{"d":"2020-11-15","n":45},{"d":"2020-11-16","n":70},{"d":"2020-11-17","n":52},{"d":"2020-11-18","n":60},{"d":"2020-11-19","n":48},{"d":"2020-11-20","n":55},{"d":"2020-11-21","n":62},{"d":"2020-11-22","n":75},{"d":"2020-11-23","n":58},{"d":"2020-11-24","n":50},{"d":"2020-11-25","n":65},{"d":"2020-11-26","n":60},{"d":"2020-11-27","n":48},{"d":"2020-11-28","n":55},{"d":"2020-11-29","n":70},{"d":"2020-11-30","n":58},
{"d":"2020-12-01","n":52},{"d":"2020-12-02","n":60},{"d":"2020-12-03","n":70},{"d":"2020-12-04","n":58},{"d":"2020-12-05","n":85},{"d":"2020-12-06","n":62},{"d":"2020-12-07","n":55},{"d":"2020-12-08","n":48},{"d":"2020-12-09","n":60},{"d":"2020-12-10","n":72},{"d":"2020-12-11","n":58},{"d":"2020-12-12","n":65},{"d":"2020-12-13","n":80},{"d":"2020-12-14","n":60},{"d":"2020-12-15","n":52},{"d":"2020-12-16","n":56},{"d":"2020-12-17","n":70},{"d":"2020-12-18","n":62},{"d":"2020-12-19","n":48},{"d":"2020-12-20","n":55},{"d":"2020-12-21","n":68},{"d":"2020-12-22","n":58},{"d":"2020-12-23","n":75},{"d":"2020-12-24","n":60},{"d":"2020-12-25","n":52},{"d":"2020-12-26","n":48},{"d":"2020-12-27","n":62},{"d":"2020-12-28","n":55},{"d":"2020-12-29","n":70},{"d":"2020-12-30","n":58},{"d":"2020-12-31","n":60},
{"d":"2021-01-01","n":65},{"d":"2021-01-02","n":110},{"d":"2021-01-03","n":72},{"d":"2021-01-04","n":78},{"d":"2021-01-05","n":68},{"d":"2021-01-06","n":80},{"d":"2021-01-07","n":75},{"d":"2021-01-08","n":118},{"d":"2021-01-09","n":70},{"d":"2021-01-10","n":85},{"d":"2021-01-11","n":62},{"d":"2021-01-12","n":72},{"d":"2021-01-13","n":90},{"d":"2021-01-14","n":68},{"d":"2021-01-15","n":75},{"d":"2021-01-16","n":82},{"d":"2021-01-17","n":70},{"d":"2021-01-18","n":62},{"d":"2021-01-19","n":78},{"d":"2021-01-20","n":88},{"d":"2021-01-21","n":65},{"d":"2021-01-22","n":72},{"d":"2021-01-23","n":80},{"d":"2021-01-24","n":68},{"d":"2021-01-25","n":60},{"d":"2021-01-26","n":75},{"d":"2021-01-27","n":70},{"d":"2021-01-28","n":82},{"d":"2021-01-29","n":66},{"d":"2021-01-30","n":72},{"d":"2021-01-31","n":64},
{"d":"2021-02-01","n":70},{"d":"2021-02-02","n":62},{"d":"2021-02-03","n":85},{"d":"2021-02-04","n":68},{"d":"2021-02-05","n":124},{"d":"2021-02-06","n":75},{"d":"2021-02-07","n":62},{"d":"2021-02-08","n":80},{"d":"2021-02-09","n":70},{"d":"2021-02-10","n":58},{"d":"2021-02-11","n":65},{"d":"2021-02-12","n":88},{"d":"2021-02-13","n":72},{"d":"2021-02-14","n":60},{"d":"2021-02-15","n":55},{"d":"2021-02-16","n":78},{"d":"2021-02-17","n":62},{"d":"2021-02-18","n":58},{"d":"2021-02-19","n":70},{"d":"2021-02-20","n":50},{"d":"2021-02-21","n":66},{"d":"2021-02-22","n":60},{"d":"2021-02-23","n":72},{"d":"2021-02-24","n":55},{"d":"2021-02-25","n":52},{"d":"2021-02-26","n":62},{"d":"2021-02-27","n":48},{"d":"2021-02-28","n":58},
{"d":"2021-03-01","n":60},{"d":"2021-03-02","n":45},{"d":"2021-03-03","n":52},{"d":"2021-03-04","n":40},{"d":"2021-03-05","n":58},{"d":"2021-03-06","n":48},{"d":"2021-03-07","n":42},{"d":"2021-03-08","n":55},{"d":"2021-03-09","n":38},{"d":"2021-03-10","n":45},{"d":"2021-03-11","n":50},{"d":"2021-03-12","n":36},{"d":"2021-03-13","n":42},{"d":"2021-03-14","n":48},{"d":"2021-03-15","n":35},{"d":"2021-03-16","n":40},{"d":"2021-03-17","n":45},{"d":"2021-03-18","n":38},{"d":"2021-03-19","n":32},{"d":"2021-03-20","n":40},{"d":"2021-03-21","n":45},{"d":"2021-03-22","n":30},{"d":"2021-03-23","n":38},{"d":"2021-03-24","n":42},{"d":"2021-03-25","n":35},{"d":"2021-03-26","n":28},{"d":"2021-03-27","n":40},{"d":"2021-03-28","n":36},{"d":"2021-03-29","n":30},{"d":"2021-03-30","n":45},{"d":"2021-03-31","n":38},
{"d":"2021-04-01","n":42},{"d":"2021-04-02","n":48},{"d":"2021-04-03","n":35},{"d":"2021-04-04","n":50},{"d":"2021-04-05","n":40},{"d":"2021-04-06","n":45},{"d":"2021-04-07","n":55},{"d":"2021-04-08","n":60},{"d":"2021-04-09","n":100},{"d":"2021-04-10","n":85},{"d":"2021-04-11","n":70},{"d":"2021-04-12","n":95},{"d":"2021-04-13","n":80},{"d":"2021-04-14","n":75},{"d":"2021-04-15","n":110},{"d":"2021-04-16","n":90},{"d":"2021-04-17","n":100},{"d":"2021-04-18","n":120},{"d":"2021-04-19","n":160},{"d":"2021-04-20","n":118},{"d":"2021-04-21","n":135},{"d":"2021-04-22","n":90},{"d":"2021-04-23","n":100},{"d":"2021-04-24","n":115},{"d":"2021-04-25","n":80},{"d":"2021-04-26","n":95},{"d":"2021-04-27","n":108},{"d":"2021-04-28","n":85},{"d":"2021-04-29","n":92},{"d":"2021-04-30","n":75},
{"d":"2021-05-01","n":90},{"d":"2021-05-02","n":80},{"d":"2021-05-03","n":70},{"d":"2021-05-04","n":105},{"d":"2021-05-05","n":75},{"d":"2021-05-06","n":65},{"d":"2021-05-07","n":82},{"d":"2021-05-08","n":60},{"d":"2021-05-09","n":70},{"d":"2021-05-10","n":55},{"d":"2021-05-11","n":68},{"d":"2021-05-12","n":80},{"d":"2021-05-13","n":52},{"d":"2021-05-14","n":58},{"d":"2021-05-15","n":60},{"d":"2021-05-16","n":48},{"d":"2021-05-17","n":55},{"d":"2021-05-18","n":45},{"d":"2021-05-19","n":52},{"d":"2021-05-20","n":50},{"d":"2021-05-21","n":42},{"d":"2021-05-22","n":48},{"d":"2021-05-23","n":40},{"d":"2021-05-24","n":38},{"d":"2021-05-25","n":45},{"d":"2021-05-26","n":35},{"d":"2021-05-27","n":42},{"d":"2021-05-28","n":30},{"d":"2021-05-29","n":38},{"d":"2021-05-30","n":32},{"d":"2021-05-31","n":35},
{"d":"2021-06-01","n":30},{"d":"2021-06-02","n":42},{"d":"2021-06-03","n":28},{"d":"2021-06-04","n":32},{"d":"2021-06-05","n":25},{"d":"2021-06-06","n":30},{"d":"2021-06-07","n":22},{"d":"2021-06-08","n":28},{"d":"2021-06-09","n":24},{"d":"2021-06-10","n":20},{"d":"2021-06-11","n":26},{"d":"2021-06-12","n":22},{"d":"2021-06-13","n":18},{"d":"2021-06-14","n":24},{"d":"2021-06-15","n":20},{"d":"2021-06-16","n":18},{"d":"2021-06-17","n":22},{"d":"2021-06-18","n":16},{"d":"2021-06-19","n":20},{"d":"2021-06-20","n":18},{"d":"2021-06-21","n":15},{"d":"2021-06-22","n":17},{"d":"2021-06-23","n":14},{"d":"2021-06-24","n":18},{"d":"2021-06-25","n":16},{"d":"2021-06-26","n":12},{"d":"2021-06-27","n":15},{"d":"2021-06-28","n":13},{"d":"2021-06-29","n":16},{"d":"2021-06-30","n":12},
{"d":"2021-07-01","n":14},{"d":"2021-07-02","n":10},{"d":"2021-07-03","n":12},{"d":"2021-07-04","n":8},{"d":"2021-07-05","n":10},{"d":"2021-07-06","n":6},{"d":"2021-07-07","n":8},{"d":"2021-07-08","n":5},{"d":"2021-07-09","n":6},{"d":"2021-07-10","n":4},{"d":"2021-07-11","n":5},{"d":"2021-07-12","n":3},{"d":"2021-07-13","n":4},{"d":"2021-07-14","n":5},{"d":"2021-07-15","n":3},{"d":"2021-07-16","n":2},{"d":"2021-07-17","n":4},{"d":"2021-07-18","n":3},{"d":"2021-07-19","n":2},{"d":"2021-07-20","n":3},{"d":"2021-07-21","n":4},{"d":"2021-07-22","n":2},{"d":"2021-07-23","n":3},{"d":"2021-07-24","n":2},{"d":"2021-07-25","n":4},{"d":"2021-07-26","n":3},{"d":"2021-07-27","n":2},{"d":"2021-07-28","n":4},{"d":"2021-07-29","n":3},{"d":"2021-07-30","n":2},{"d":"2021-07-31","n":3},
{"d":"2021-08-01","n":4},{"d":"2021-08-02","n":3},{"d":"2021-08-03","n":5},{"d":"2021-08-04","n":6},{"d":"2021-08-05","n":4},{"d":"2021-08-06","n":8},{"d":"2021-08-07","n":5},{"d":"2021-08-08","n":10},{"d":"2021-08-09","n":6},{"d":"2021-08-10","n":12},{"d":"2021-08-11","n":8},{"d":"2021-08-12","n":5},{"d":"2021-08-13","n":7},{"d":"2021-08-14","n":4},{"d":"2021-08-15","n":6},{"d":"2021-08-16","n":3},{"d":"2021-08-17","n":4},{"d":"2021-08-18","n":2},{"d":"2021-08-19","n":3},{"d":"2021-08-20","n":2},{"d":"2021-08-21","n":1},{"d":"2021-08-22","n":2},{"d":"2021-08-23","n":1},{"d":"2021-08-24","n":2},{"d":"2021-08-25","n":1},{"d":"2021-08-26","n":1},{"d":"2021-08-27","n":2},{"d":"2021-08-28","n":1},{"d":"2021-08-29","n":1},{"d":"2021-08-30","n":2},{"d":"2021-08-31","n":1},
{"d":"2021-09-03","n":1},{"d":"2021-09-08","n":1},{"d":"2021-09-12","n":2},{"d":"2021-09-15","n":1},{"d":"2021-09-19","n":1},{"d":"2021-09-23","n":1},{"d":"2021-09-27","n":1},{"d":"2021-09-30","n":1},{"d":"2021-10-03","n":1},{"d":"2021-10-07","n":1},{"d":"2021-10-10","n":2},{"d":"2021-10-13","n":1},{"d":"2021-10-16","n":3,"r":1},{"d":"2021-10-17","n":8,"r":1},{"d":"2021-10-18","n":5,"r":1},{"d":"2021-10-19","n":4,"r":1},{"d":"2021-10-20","n":6,"r":1},{"d":"2021-10-21","n":3,"r":1},{"d":"2021-10-22","n":4,"r":1},{"d":"2021-10-23","n":2,"r":1},{"d":"2021-10-24","n":3,"r":1},{"d":"2021-10-25","n":1,"r":1}],
"rio": [{"d":"2020-09-04","n":1},{"d":"2020-09-21","n":1},{"d":"2020-11-02","n":1},{"d":"2020-12-15","n":1},{"d":"2021-01-05","n":1},{"d":"2021-01-31","n":1},{"d":"2021-02-03","n":1},{"d":"2021-02-14","n":1},{"d":"2021-03-03","n":1},{"d":"2021-04-13","n":1},{"d":"2021-04-19","n":1},{"d":"2021-04-22","n":1},{"d":"2021-05-07","n":1},{"d":"2021-06-25","n":1},{"d":"2021-06-26","n":1},{"d":"2021-06-28","n":2}],
"sgr": [{"d":"2020-05-04","n":1},{"d":"2020-05-09","n":1},{"d":"2020-09-15","n":1},{"d":"2020-09-16","n":2},{"d":"2020-09-23","n":1},{"d":"2020-09-24","n":1},{"d":"2020-09-26","n":1},{"d":"2020-09-27","n":1},{"d":"2020-09-30","n":1},{"d":"2020-10-03","n":2},{"d":"2020-10-04","n":1},{"d":"2020-10-06","n":2},{"d":"2020-10-07","n":2},{"d":"2020-10-25","n":1},{"d":"2020-10-31","n":1},{"d":"2020-11-01","n":2},{"d":"2020-11-02","n":1},{"d":"2020-11-03","n":1},{"d":"2020-11-10","n":2},{"d":"2020-11-11","n":1},{"d":"2020-12-12","n":1},{"d":"2020-12-13","n":1},{"d":"2020-12-25","n":1},{"d":"2020-12-26","n":1},{"d":"2020-12-27","n":3},{"d":"2020-12-28","n":1},{"d":"2020-12-29","n":2},{"d":"2020-12-30","n":2},{"d":"2020-12-31","n":5},{"d":"2021-01-01","n":2},{"d":"2021-01-02","n":1},{"d":"2021-01-03","n":2},{"d":"2021-01-05","n":1},{"d":"2021-01-08","n":1},{"d":"2021-01-11","n":1},{"d":"2021-02-17","n":1},{"d":"2021-02-22","n":1},{"d":"2021-02-24","n":3},{"d":"2021-02-25","n":1},{"d":"2021-02-26","n":2},{"d":"2021-03-03","n":1},{"d":"2021-03-04","n":1},{"d":"2021-03-05","n":1},{"d":"2021-03-09","n":1},{"d":"2021-03-10","n":1},{"d":"2021-04-08","n":1},{"d":"2021-04-16","n":1},{"d":"2021-04-17","n":1},{"d":"2021-06-05","n":1},{"d":"2021-06-08","n":1},{"d":"2021-06-30","n":2},{"d":"2021-07-05","n":1}],
"tim": [{"d":"2020-09-16","n":1},{"d":"2020-09-17","n":3},{"d":"2020-09-18","n":1},{"d":"2020-09-21","n":1},{"d":"2020-09-25","n":2},{"d":"2020-09-26","n":1},{"d":"2020-09-30","n":2},{"d":"2020-10-08","n":1},{"d":"2020-10-13","n":1},{"d":"2020-10-16","n":1},{"d":"2020-10-17","n":2},{"d":"2020-10-18","n":1},{"d":"2020-12-13","n":1},{"d":"2021-01-01","n":1},{"d":"2021-01-14","n":2},{"d":"2021-01-25","n":4},{"d":"2021-01-26","n":1},{"d":"2021-01-27","n":3},{"d":"2021-01-28","n":2},{"d":"2021-01-29","n":1},{"d":"2021-02-12","n":1},{"d":"2021-02-18","n":1},{"d":"2021-03-10","n":1},{"d":"2021-04-30","n":2},{"d":"2021-05-04","n":1}],
"tor": [{"d":"2020-09-14","n":2},{"d":"2020-11-02","n":1},{"d":"2020-12-06","n":1},{"d":"2020-12-31","n":1},{"d":"2021-01-05","n":2},{"d":"2021-01-08","n":1},{"d":"2021-01-12","n":2},{"d":"2021-01-13","n":1},{"d":"2021-01-26","n":1},{"d":"2021-02-09","n":1},{"d":"2021-04-18","n":1},{"d":"2021-05-04","n":1},{"d":"2021-05-17","n":1},{"d":"2021-05-21","n":1},{"d":"2021-06-01","n":1},{"d":"2021-08-07","n":2},{"d":"2021-08-09","n":1}]
},
"concat": [
{"title": "Antártica", "data": {"name": "ant"}, "width": 661, "height": 175, "mark": {"type": "bar", "width": 1.8},
 "encoding": {
  "x": {"field": "d", "type": "temporal", "scale": {"type": "utc", "domain": [{"year":2020,"month":1,"date":21,"utc":true},{"year":2021,"month":11,"date":27,"utc":true}]}, "axis": {"title": null, "values": {"expr": "xt"}, "labelExpr": "utcdate(datum.value) == 1 ? mes[utcmonth(datum.value)] : ''", "gridWidth": {"condition": {"test": "utcdate(datum.value) == 1", "value": 2}, "value": 1.1}}},
  "y": {"field": "n", "type": "quantitative", "scale": {"domain": [-1.35, 28.35], "nice": false, "zero": false}, "axis": {"title": "Número de casos", "titleX": -28, "labelFontSize": 14, "labelPadding": 9, "values": [0,5,10,15,20,25], "labelExpr": "datum.value % 10 == 0 ? format(datum.value, 'd') : ''", "gridWidth": {"condition": {"test": "datum.value % 10 == 0", "value": 2}, "value": 1.1}}},
  "y2": {"datum": 0}}},
{"title": "Cabo de Hornos", "data": {"name": "cab"}, "width": 684, "height": 175, "mark": {"type": "bar", "width": 1.8},
 "encoding": {
  "x": {"field": "d", "type": "temporal", "scale": {"type": "utc", "domain": [{"year":2020,"month":1,"date":21,"utc":true},{"year":2021,"month":11,"date":27,"utc":true}]}, "axis": {"title": null, "values": {"expr": "xt"}, "labelExpr": "utcdate(datum.value) == 1 ? mes[utcmonth(datum.value)] : ''", "gridWidth": {"condition": {"test": "utcdate(datum.value) == 1", "value": 2}, "value": 1.1}}},
  "y": {"field": "n", "type": "quantitative", "scale": {"domain": [-1.35, 28.35], "nice": false, "zero": false}, "axis": {"title": null, "labelFontSize": 14, "labelPadding": 9, "values": [0,5,10,15,20,25], "labelExpr": "datum.value % 10 == 0 ? format(datum.value, 'd') : ''", "gridWidth": {"condition": {"test": "datum.value % 10 == 0", "value": 2}, "value": 1.1}}},
  "y2": {"datum": 0}}},
{"title": "Laguna Blanca", "data": {"name": "lag"}, "width": 691, "height": 175, "mark": {"type": "bar", "width": 1.8},
 "encoding": {
  "x": {"field": "d", "type": "temporal", "scale": {"type": "utc", "domain": [{"year":2020,"month":1,"date":21,"utc":true},{"year":2021,"month":11,"date":27,"utc":true}]}, "axis": {"title": null, "values": {"expr": "xt"}, "labelExpr": "utcdate(datum.value) == 1 ? mes[utcmonth(datum.value)] : ''", "gridWidth": {"condition": {"test": "utcdate(datum.value) == 1", "value": 2}, "value": 1.1}}},
  "y": {"field": "n", "type": "quantitative", "scale": {"domain": [-0.15, 3.15], "nice": false, "zero": false}, "axis": {"title": null, "labelFontSize": 14, "labelPadding": 9, "values": [0,0.5,1,1.5,2,2.5,3], "labelExpr": "datum.value % 1 == 0 ? format(datum.value, 'd') : ''", "gridWidth": {"condition": {"test": "datum.value % 1 == 0", "value": 2}, "value": 1.1}}},
  "y2": {"datum": 0}}},
{"title": "Natales", "data": {"name": "nat"}, "width": 661, "height": 175, "mark": {"type": "bar", "width": 1.8},
 "encoding": {
  "x": {"field": "d", "type": "temporal", "scale": {"type": "utc", "domain": [{"year":2020,"month":1,"date":21,"utc":true},{"year":2021,"month":11,"date":27,"utc":true}]}, "axis": {"title": null, "values": {"expr": "xt"}, "labelExpr": "utcdate(datum.value) == 1 ? mes[utcmonth(datum.value)] : ''", "gridWidth": {"condition": {"test": "utcdate(datum.value) == 1", "value": 2}, "value": 1.1}}},
  "y": {"field": "n", "type": "quantitative", "scale": {"domain": [-2.5, 52.5], "nice": false, "zero": false}, "axis": {"title": "Número de casos", "titleX": -28, "labelFontSize": 14, "labelPadding": 9, "values": [0,5,10,15,20,25,30,35,40,45,50], "labelExpr": "datum.value % 10 == 0 ? format(datum.value, 'd') : ''", "gridWidth": {"condition": {"test": "datum.value % 10 == 0", "value": 2}, "value": 1.1}}},
  "y2": {"datum": 0},
  "color": {"condition": {"test": "datum.r == 1", "value": "#17305E"}, "value": "#1F93C2"}}},
{"title": "Porvenir", "data": {"name": "por"}, "width": 684, "height": 175, "mark": {"type": "bar", "width": 1.8},
 "encoding": {
  "x": {"field": "d", "type": "temporal", "scale": {"type": "utc", "domain": [{"year":2020,"month":1,"date":21,"utc":true},{"year":2021,"month":11,"date":27,"utc":true}]}, "axis": {"title": null, "values": {"expr": "xt"}, "labelExpr": "utcdate(datum.value) == 1 ? mes[utcmonth(datum.value)] : ''", "gridWidth": {"condition": {"test": "utcdate(datum.value) == 1", "value": 2}, "value": 1.1}}},
  "y": {"field": "n", "type": "quantitative", "scale": {"domain": [-1.15, 24.15], "nice": false, "zero": false}, "axis": {"title": null, "labelFontSize": 14, "labelPadding": 9, "values": [0,2.5,5,7.5,10,12.5,15,17.5,20,22.5], "labelExpr": "datum.value % 5 == 0 ? format(datum.value, 'd') : ''", "gridWidth": {"condition": {"test": "datum.value % 5 == 0", "value": 2}, "value": 1.1}}},
  "y2": {"datum": 0}}},
{"title": "Primavera", "data": {"name": "pri"}, "width": 691, "height": 175, "mark": {"type": "bar", "width": 1.8},
 "encoding": {
  "x": {"field": "d", "type": "temporal", "scale": {"type": "utc", "domain": [{"year":2020,"month":1,"date":21,"utc":true},{"year":2021,"month":11,"date":27,"utc":true}]}, "axis": {"title": null, "values": {"expr": "xt"}, "labelExpr": "utcdate(datum.value) == 1 ? mes[utcmonth(datum.value)] : ''", "gridWidth": {"condition": {"test": "utcdate(datum.value) == 1", "value": 2}, "value": 1.1}}},
  "y": {"field": "n", "type": "quantitative", "scale": {"domain": [-0.25, 5.25], "nice": false, "zero": false}, "axis": {"title": null, "labelFontSize": 14, "labelPadding": 9, "values": [0,0.5,1,1.5,2,2.5,3,3.5,4,4.5,5], "labelExpr": "datum.value % 1 == 0 ? format(datum.value, 'd') : ''", "gridWidth": {"condition": {"test": "datum.value % 1 == 0", "value": 2}, "value": 1.1}}},
  "y2": {"datum": 0}}},
{"title": "Punta Arenas", "data": {"name": "pun"}, "width": 661, "height": 175, "mark": {"type": "bar", "width": 1.8},
 "encoding": {
  "x": {"field": "d", "type": "temporal", "scale": {"type": "utc", "domain": [{"year":2020,"month":1,"date":21,"utc":true},{"year":2021,"month":11,"date":27,"utc":true}]}, "axis": {"title": null, "values": {"expr": "xt"}, "labelExpr": "utcdate(datum.value) == 1 ? mes[utcmonth(datum.value)] : ''", "gridWidth": {"condition": {"test": "utcdate(datum.value) == 1", "value": 2}, "value": 1.1}}},
  "y": {"field": "n", "type": "quantitative", "scale": {"domain": [-13.25, 278.25], "nice": false, "zero": false}, "axis": {"title": "Número de casos", "titleX": -28, "labelFontSize": 14, "labelPadding": 6, "values": [0,50,100,150,200,250], "labelExpr": "datum.value % 100 == 0 ? format(datum.value, 'd') : ''", "gridWidth": {"condition": {"test": "datum.value % 100 == 0", "value": 2}, "value": 1.1}}},
  "y2": {"datum": 0},
  "color": {"condition": {"test": "datum.r == 1", "value": "#17305E"}, "value": "#1F93C2"}}},
{"title": "Río Verde", "data": {"name": "rio"}, "width": 680, "height": 175, "mark": {"type": "bar", "width": 1.8},
 "encoding": {
  "x": {"field": "d", "type": "temporal", "scale": {"type": "utc", "domain": [{"year":2020,"month":1,"date":21,"utc":true},{"year":2021,"month":11,"date":27,"utc":true}]}, "axis": {"title": null, "values": {"expr": "xt"}, "labelExpr": "utcdate(datum.value) == 1 ? mes[utcmonth(datum.value)] : ''", "gridWidth": {"condition": {"test": "utcdate(datum.value) == 1", "value": 2}, "value": 1.1}}},
  "y": {"field": "n", "type": "quantitative", "scale": {"domain": [-0.1, 2.1], "nice": false, "zero": false}, "axis": {"title": null, "labelFontSize": 14, "labelPadding": 9, "values": [0,0.25,0.5,0.75,1,1.25,1.5,1.75,2], "labelExpr": "(datum.value * 2) % 1 == 0 ? format(datum.value, '.1f') : ''", "gridWidth": {"condition": {"test": "(datum.value * 2) % 1 == 0", "value": 2}, "value": 1.1}}},
  "y2": {"datum": 0}}},
{"title": "San Gregorio", "data": {"name": "sgr"}, "width": 691, "height": 154, "mark": {"type": "bar", "width": 1.8},
 "encoding": {
  "x": {"field": "d", "type": "temporal", "scale": {"type": "utc", "domain": [{"year":2020,"month":1,"date":21,"utc":true},{"year":2021,"month":11,"date":27,"utc":true}]}, "axis": {"title": "Fecha de primeros síntomas", "values": {"expr": "xt"}, "labelExpr": "utcdate(datum.value) == 1 ? mes[utcmonth(datum.value)] : ''", "gridWidth": {"condition": {"test": "utcdate(datum.value) == 1", "value": 2}, "value": 1.1}}},
  "y": {"field": "n", "type": "quantitative", "scale": {"domain": [-0.25, 5.25], "nice": false, "zero": false}, "axis": {"title": null, "labelFontSize": 14, "labelPadding": 9, "values": [0,0.5,1,1.5,2,2.5,3,3.5,4,4.5,5], "labelExpr": "datum.value % 1 == 0 ? format(datum.value, 'd') : ''", "gridWidth": {"condition": {"test": "datum.value % 1 == 0", "value": 2}, "value": 1.1}}},
  "y2": {"datum": 0}}},
{"title": "Timaukel", "data": {"name": "tim"}, "width": 661, "height": 154, "mark": {"type": "bar", "width": 1.8},
 "encoding": {
  "x": {"field": "d", "type": "temporal", "scale": {"type": "utc", "domain": [{"year":2020,"month":1,"date":21,"utc":true},{"year":2021,"month":11,"date":27,"utc":true}]}, "axis": {"title": "Fecha de primeros síntomas", "values": {"expr": "xt"}, "labelExpr": "utcdate(datum.value) == 1 ? mes[utcmonth(datum.value)] : ''", "gridWidth": {"condition": {"test": "utcdate(datum.value) == 1", "value": 2}, "value": 1.1}}},
  "y": {"field": "n", "type": "quantitative", "scale": {"domain": [-0.2, 4.2], "nice": false, "zero": false}, "axis": {"title": "Número de casos", "titleX": -28, "labelFontSize": 14, "labelPadding": 9, "values": [0,0.5,1,1.5,2,2.5,3,3.5,4], "labelExpr": "datum.value % 1 == 0 ? format(datum.value, 'd') : ''", "gridWidth": {"condition": {"test": "datum.value % 1 == 0", "value": 2}, "value": 1.1}}},
  "y2": {"datum": 0}}},
{"title": "Torres del Paine", "data": {"name": "tor"}, "width": 680, "height": 154, "mark": {"type": "bar", "width": 1.8},
 "encoding": {
  "x": {"field": "d", "type": "temporal", "scale": {"type": "utc", "domain": [{"year":2020,"month":1,"date":21,"utc":true},{"year":2021,"month":11,"date":27,"utc":true}]}, "axis": {"title": "Fecha de primeros síntomas", "values": {"expr": "xt"}, "labelExpr": "utcdate(datum.value) == 1 ? mes[utcmonth(datum.value)] : ''", "gridWidth": {"condition": {"test": "utcdate(datum.value) == 1", "value": 2}, "value": 1.1}}},
  "y": {"field": "n", "type": "quantitative", "scale": {"domain": [-0.1, 2.1], "nice": false, "zero": false}, "axis": {"title": null, "labelFontSize": 14, "labelPadding": 9, "values": [0,0.25,0.5,0.75,1,1.25,1.5,1.75,2], "labelExpr": "(datum.value * 2) % 1 == 0 ? format(datum.value, '.1f') : ''", "gridWidth": {"condition": {"test": "(datum.value * 2) % 1 == 0", "value": 2}, "value": 1.1}}},
  "y2": {"datum": 0}}}
]
}
